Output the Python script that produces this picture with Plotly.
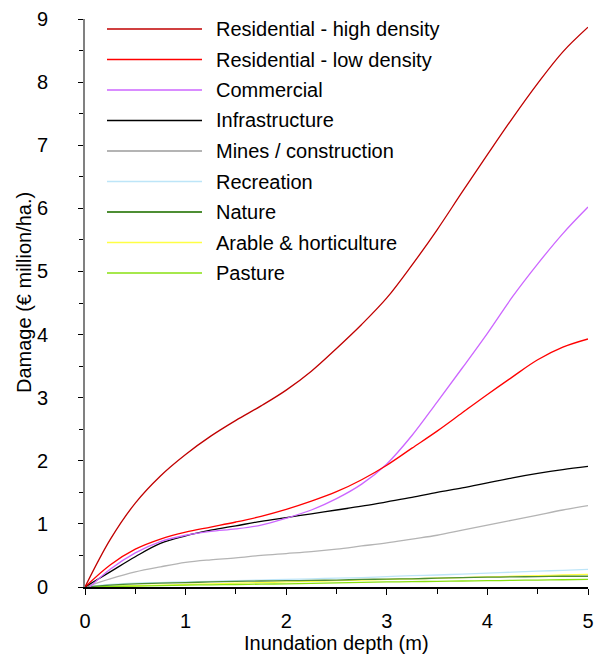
import plotly.graph_objects as go

depth = [0, 0.25, 0.5, 0.75, 1, 1.25, 1.5, 1.75, 2, 2.25, 2.5, 2.75, 3,
         3.25, 3.5, 3.75, 4, 4.25, 4.5, 4.75, 5]

res_high = [0, 0.75, 1.33, 1.76, 2.10, 2.39, 2.64, 2.87, 3.12, 3.42, 3.78, 4.16, 4.58,
            5.10, 5.66, 6.26, 6.85, 7.43, 7.98, 8.48, 8.87]
res_low = [0, 0.35, 0.60, 0.76, 0.87, 0.95, 1.03, 1.12, 1.23, 1.36, 1.51, 1.70, 1.93,
           2.20, 2.47, 2.76, 3.05, 3.33, 3.60, 3.80, 3.93]
commercial = [-0.07, 0.28, 0.54, 0.72, 0.82, 0.88, 0.92, 0.98, 1.09, 1.22, 1.40, 1.63, 1.95,
              2.40, 2.93, 3.47, 4.02, 4.60, 5.12, 5.60, 6.02]
infrastructure = [0, 0.24, 0.48, 0.69, 0.81, 0.90, 0.97, 1.04, 1.10, 1.16, 1.22, 1.28, 1.35,
                  1.42, 1.50, 1.57, 1.65, 1.73, 1.80, 1.86, 1.91]
mines = [0, 0.13, 0.24, 0.32, 0.39, 0.43, 0.46, 0.50, 0.53, 0.56, 0.60, 0.65, 0.70,
         0.76, 0.82, 0.90, 0.98, 1.06, 1.14, 1.22, 1.29]
recreation = [0, 0.04, 0.06, 0.07, 0.08, 0.09, 0.10, 0.11, 0.12, 0.13, 0.14, 0.15, 0.165,
              0.18, 0.19, 0.205, 0.22, 0.235, 0.25, 0.265, 0.28]
nature = [0, 0.03, 0.05, 0.06, 0.07, 0.08, 0.09, 0.095, 0.10, 0.105, 0.11, 0.12, 0.125,
          0.13, 0.14, 0.15, 0.155, 0.16, 0.165, 0.17, 0.17]
arable = [0, 0.01, 0.02, 0.03, 0.04, 0.05, 0.06, 0.07, 0.08, 0.09, 0.10, 0.11, 0.12,
          0.13, 0.14, 0.15, 0.16, 0.17, 0.18, 0.19, 0.20]
pasture = [0, 0.008, 0.015, 0.022, 0.03, 0.035, 0.04, 0.045, 0.05, 0.057, 0.065, 0.072, 0.08,
           0.085, 0.09, 0.095, 0.10, 0.105, 0.11, 0.115, 0.12]

names = ["Residential - high density", "Residential - low density", "Commercial",
         "Infrastructure", "Mines / construction", "Recreation", "Nature",
         "Arable & horticulture", "Pasture"]
series = [res_high, res_low, commercial, infrastructure, mines, recreation, nature, arable, pasture]
colors = ["#C00000", "#FF0000", "#CC66FF", "#000000", "#B4B4B4", "#BDE5F8",
          "#4E8E34", "#FFFF44", "#88E010"]

x_title = "Inundation depth (m)"
y_title = "Damage (€ million/ha.)"

FONT = "Arial, Liberation Sans, sans-serif"

fig = go.Figure()
order = [5, 7, 8, 6, 4, 3, 2, 1, 0]
for i in order:
    fig.add_trace(go.Scatter(x=depth, y=series[i], mode="lines", name=names[i],
                             line=dict(color=colors[i], width=1.3, shape="spline", smoothing=1.0),
                             showlegend=False))

# manual legend with long line samples
W, H = 595, 656
L, R, T, B = 85, 7, 19, 69
pw = W - L - R
ph = H - T - B
def px2x(p):
    return (p - L) / pw
def px2y(p):
    return (H - B - p) / ph

row0, gap = 29, 30.5
shapes = []
annotations = []
for i, nm in enumerate(names):
    yy = px2y(row0 + i * gap)
    shapes.append(dict(type="line", xref="paper", yref="paper",
                       x0=px2x(107), x1=px2x(202), y0=yy, y1=yy,
                       line=dict(color=colors[i], width=1.5 if i not in (4, 6) else 2.2)))
    annotations.append(dict(xref="paper", yref="paper", x=px2x(214), y=yy,
                            text=nm, showarrow=False, xanchor="left", yanchor="middle",
                            font=dict(family=FONT, size=20, color="#000000")))

# axis titles placed as annotations
annotations.append(dict(xref="paper", yref="paper", x=0.5, y=px2y(643),
                        text=x_title, showarrow=False, xanchor="center", yanchor="middle",
                        font=dict(family=FONT, size=20, color="#000000")))
annotations.append(dict(xref="paper", yref="paper", x=px2x(24), y=px2y(293),
                        text=y_title, showarrow=False, xanchor="center", yanchor="middle",
                        textangle=-90,
                        font=dict(family=FONT, size=20, color="#000000")))

fig.update_layout(
    width=W, height=H,
    margin=dict(l=L, r=R, t=T, b=B, pad=0),
    paper_bgcolor="white", plot_bgcolor="white",
    font=dict(family=FONT, size=20, color="#000000"),
    shapes=shapes, annotations=annotations,
    showlegend=False,
)
fig.update_xaxes(
    range=[0, 5], dtick=1, tick0=0, showgrid=False, zeroline=False, automargin=False,
    showline=True, linecolor="#000000", linewidth=1.5,
    ticks="outside", ticklen=6, tickwidth=1, tickcolor="#000000",
    minor=dict(dtick=0.5, ticks="outside", ticklen=5, tickcolor="#000000", showgrid=False),
    tickfont=dict(family=FONT, size=20, color="#000000"),
    ticklabelstandoff=9,
)
fig.update_yaxes(
    range=[0, 9], dtick=1, tick0=0, showgrid=False, zeroline=False, automargin=False,
    showline=True, linecolor="#808080", linewidth=2,
    ticks="outside", ticklen=5, tickwidth=1, tickcolor="#000000",
    minor=dict(dtick=0.5, ticks="outside", ticklen=4, tickcolor="#000000", showgrid=False),
    tickfont=dict(family=FONT, size=20, color="#000000"),
    ticklabelstandoff=26,
)

fig.write_html("out.html")
